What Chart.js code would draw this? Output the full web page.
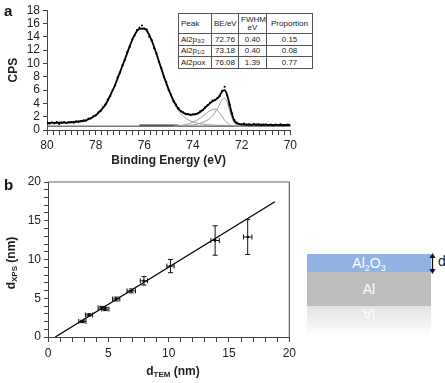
<!DOCTYPE html>
<html><head><meta charset="utf-8">
<script src="https://cdn.jsdelivr.net/npm/chart.js@4.4.1/dist/chart.umd.min.js"></script>
<style>
html,body{margin:0;padding:0;background:#fff;}
body{width:445px;height:383px;position:relative;overflow:hidden;font-family:"Liberation Sans",Arial,sans-serif;color:#222;}
canvas{position:absolute;left:0;}
#ca{top:0;}
#cb{top:170px;}
.panel{position:absolute;font-weight:bold;font-size:15px;color:#111;line-height:15px;}
#tbl{position:absolute;left:178px;top:13px;border-collapse:collapse;table-layout:fixed;width:134px;font-size:8px;background:#fff;color:#222;}
#tbl td{border:1px solid #555;padding:0 2px;text-align:center;white-space:nowrap;line-height:8px;overflow:hidden;}
#tbl td.l{text-align:left;}
#tbl sub{font-size:5.5px;vertical-align:-1px;line-height:0;}
.axt{position:absolute;font-weight:bold;font-size:12px;white-space:nowrap;transform:translate(-50%,-50%);color:#222;}
.axt sub{font-size:8px;vertical-align:-2px;line-height:0;}
.layer{position:absolute;left:307px;width:124px;color:#fff;font-size:14px;text-align:center;}
.layer sub{font-size:9px;vertical-align:-3px;line-height:0;}
</style></head>
<body>
<canvas id="ca" width="300" height="170"></canvas>
<canvas id="cb" width="300" height="213"></canvas>
<div class="panel" style="left:4px;top:3px">a</div>
<div class="panel" style="left:4px;top:177px">b</div>
<table id="tbl">
<colgroup><col style="width:33px"><col style="width:27px"><col style="width:28px"><col style="width:46px"></colgroup>
<tbody id="tbody"></tbody>
</table>
<div class="axt" id="ybt" style="left:11px;top:263px;transform:translate(-50%,-50%) rotate(-90deg)">d<sub>XPS</sub> (nm)</div>
<div class="axt" id="xbt" style="left:173px;top:371px">d<sub>TEM</sub> (nm)</div>
<div class="layer" style="top:254px;height:18px;line-height:18px;background:#8fb2e2">Al<sub>2</sub>O<sub>3</sub></div>
<div class="layer" style="top:272px;height:34px;line-height:34px;background:#bdbdbd">Al</div>
<div class="layer" style="top:306px;height:31px;background:linear-gradient(#e2e2e2,#ffffff);"><div style="transform:scaleY(-1);line-height:16px;opacity:0.95">Al</div></div>
<svg style="position:absolute;left:427px;top:252px" width="11" height="23" viewBox="0 0 11 23">
<line x1="5.5" y1="4" x2="5.5" y2="19" stroke="#111" stroke-width="1.3"/>
<polygon points="5.5,1 2.5,6 8.5,6" fill="#111"/>
<polygon points="5.5,22 2.5,17 8.5,17" fill="#111"/>
</svg>
<div style="position:absolute;left:438px;top:253px;font-size:14px;color:#222">d</div>
<script>
// ---------- Panel a: XPS spectrum ----------
const specE = [80.0,79.9,79.8,79.7,79.6,79.5,79.4,79.3,79.2,79.1,
79.0,78.9,78.8,78.7,78.6,78.5,78.4,78.3,78.2,78.1,
78.0,77.9,77.8,77.7,77.6,77.5,77.4,77.3,77.2,77.1,
77.0,76.9,76.8,76.7,76.6,76.5,76.4,76.3,76.2,76.1,
76.0,75.9,75.8,75.7,75.6,75.5,75.4,75.3,75.2,75.1,
75.0,74.9,74.8,74.7,74.6,74.5,74.4,74.3,74.2,74.1,
74.0,73.9,73.8,73.7,73.6,73.5,73.4,73.3,73.2,73.1,
73.0,72.9,72.8,72.7,72.6,72.5,72.4,72.3,72.2,72.1,
72.0,71.9,71.8,71.7,71.6,71.5,71.4,71.3,71.2,71.1,
71.0,70.9,70.8,70.7,70.6,70.5,70.4,70.3,70.2,70.1,
70.0];
const specCPS = [1.1,0.95,1.15,1.0,1.2,0.9,1.1,1.2,1.05,1.15,
1.2,1.1,1.3,1.25,1.35,1.45,1.4,1.7,1.75,2.05,
2.2,2.6,2.85,3.4,3.8,4.6,5.1,6.0,6.7,7.9,
8.6,9.7,10.5,11.7,12.5,13.6,14.2,15.0,15.4,15.7,
15.2,15.1,14.0,13.5,12.3,11.5,10.2,9.3,8.0,7.2,
6.0,5.3,4.3,3.8,3.3,2.8,2.65,2.4,2.4,2.25,
2.35,2.4,2.5,2.8,3.0,3.4,3.7,4.1,4.4,4.5,
4.8,5.1,5.9,6.5,5.2,3.8,2.5,1.5,1.1,0.9,
0.85,0.95,0.8,0.85,0.75,0.9,0.8,0.85,0.7,0.8,
0.85,0.75,0.8,0.7,0.8,0.75,0.85,0.7,0.75,0.8,
0.7];
const envE = [80.0,79.6,79.2,78.8,78.4,78.0,77.8,77.6,77.4,77.2,77.0,76.8,76.6,76.4,76.2,76.0,75.8,75.6,75.4,75.2,75.0,74.8,74.6,74.4,74.2,74.0,73.8,73.6,73.4,73.2,73.0,72.9,72.8,72.7,72.6,72.5,72.4,72.3,72.2,72.0,71.5,71.0,70.5,70.0];
const envFit = [1.05,1.08,1.12,1.24,1.46,2.2,2.9,3.8,5.2,6.8,8.7,10.6,12.6,14.3,15.2,15.25,14.3,12.5,10.3,8.1,6.1,4.4,3.2,2.6,2.35,2.3,2.5,3.0,3.7,4.3,4.75,5.2,5.8,6.0,5.3,3.9,2.4,1.4,1.0,0.85,0.8,0.78,0.76,0.75];
const oxE = [75.4,75.2,75.0,74.8,74.6,74.4,74.2,74.0,73.8,73.6,73.4,73.2,73.0,72.5,72.0,71.0,70.0];
const oxFit = [10.3,8.1,6.1,4.2,2.9,2.1,1.55,1.2,1.0,0.88,0.8,0.75,0.72,0.68,0.66,0.63,0.6];
const p12E = [74.8,74.6,74.4,74.2,74.0,73.8,73.6,73.4,73.2,73.1,73.0,72.9,72.8,72.7,72.6,72.5,72.4,72.2,72.0];
const p12Fit = [0.6,0.65,0.75,0.9,1.2,1.55,2.05,2.65,3.1,3.15,2.95,2.5,2.0,1.5,1.1,0.8,0.65,0.58,0.56];
const p32E = [74.4,74.2,74.0,73.8,73.6,73.4,73.2,73.0,72.9,72.8,72.7,72.6,72.5,72.4,72.3,72.2,72.0,71.8];
const p32Fit = [0.6,0.66,0.75,0.9,1.15,1.5,2.1,3.2,3.9,4.6,4.8,4.2,3.0,1.8,1.05,0.75,0.6,0.56];
const bgE = [80.0,70.0];
const bgFit = [0.55,0.55];
const shE = [76.2,74.6];
const shFit = [0.72,0.72];
const xTicksA = [80,78,76,74,72,70];

// table
const tblHead = ['Peak','BE/eV','FWHM/<br>eV','Proportion'];
const tblPeak = ['Al2p<sub>3/2</sub>','Al2p<sub>1/2</sub>','Al2pox'];
const tblBE = ['72.76','73.18','76.08'];
const tblFWHM = ['0.40','0.40','1.39'];
const tblProp = ['0.15','0.08','0.77'];

// ---------- Panel b: d_XPS vs d_TEM ----------
const dTEM = [2.85,3.4,4.45,4.75,5.65,6.9,7.95,10.15,13.85,16.55];
const dXPS = [2.0,2.85,3.75,3.6,4.9,5.95,7.25,9.15,12.45,12.9];
const dTEMerr = [0.3,0.3,0.3,0.3,0.3,0.35,0.3,0.3,0.35,0.35];
const dXPSerr = [0.15,0.15,0.2,0.2,0.25,0.25,0.55,0.85,1.9,2.25];
const fitX = [0.6,18.8];
const fitY = [0.0,17.45];

// build table
(function(){
  const tb = document.getElementById('tbody');
  let h = '<tr style="height:20px">' + tblHead.map((t,i)=>'<td'+(i===0?' class="l"':'')+'>'+t+'</td>').join('') + '</tr>';
  const rh = [12,11,12];
  for (let i=0;i<tblPeak.length;i++){
    h += '<tr style="height:'+rh[i]+'px"><td class="l">'+tblPeak[i]+'</td><td>'+tblBE[i]+'</td><td>'+tblFWHM[i]+'</td><td>'+tblProp[i]+'</td></tr>';
  }
  tb.innerHTML = h;
})();

const pts = (xs, ys) => xs.map((x,i)=>({x:x, y:ys[i]}));
Chart.defaults.font.family = "'Liberation Sans', Arial, sans-serif";
Chart.defaults.color = '#222';
const AX = '#444';

const lineDs = (label, xs, ys, color, w, order) => ({
  label, data: pts(xs, ys), showLine:true, pointRadius:0, borderColor:color, borderWidth:w,
  cubicInterpolationMode:'monotone', fill:false, order
});

new Chart(document.getElementById('ca'), {
  type:'scatter',
  data:{datasets:[
    {label:'data', data:pts(specE, specCPS), showLine:false, pointRadius:1.1, pointBackgroundColor:'#000', pointBorderWidth:0, order:0},
    lineDs('fit', envE, envFit, '#000', 1.8, 1),
    lineDs('Al2pox', oxE, oxFit, '#999', 1, 2),
    lineDs('Al2p1/2', p12E, p12Fit, '#999', 1, 2),
    lineDs('Al2p3/2', p32E, p32Fit, '#999', 1, 2),
    lineDs('Shirley', shE, shFit, '#333', 1.2, 3),
    lineDs('baseline', bgE, bgFit, '#777', 1.5, 4)
  ]},
  options:{
    responsive:false, animation:false, events:[],
    layout:{padding:{top:10,right:9,left:0,bottom:0}},
    plugins:{legend:{display:false}, tooltip:{enabled:false}},
    scales:{
      x:{type:'linear', reverse:true, min:70, max:80,
        ticks:{stepSize:0.25, autoSkip:false, maxRotation:0, padding:3, font:{size:12}, color:'#222',
          callback:(v)=> xTicksA.includes(v) ? String(v) : ''},
        grid:{display:true, drawOnChartArea:false, drawTicks:true, tickLength:5, color:AX},
        border:{display:true, color:AX, width:1},
        title:{display:true, text:'Binding Energy (eV)', font:{size:12, weight:'bold'}, padding:{top:0,bottom:2}, color:'#222'},
        afterFit:(s)=>{s.height=40;}
      },
      y:{min:0, max:18,
        ticks:{stepSize:2, autoSkip:false, padding:3, font:{size:12}, color:'#222'},
        grid:{display:true, drawOnChartArea:false, drawTicks:true, tickLength:4, color:AX},
        border:{display:true, color:AX, width:1},
        title:{display:true, text:'CPS', font:{size:12, weight:'bold'}, padding:{top:6,bottom:0}, color:'#222'},
        afterFit:(s)=>{s.width=47;}
      }
    }
  }
});

const errBars = {
  id:'errBars',
  afterDatasetsDraw(chart){
    const {ctx, scales:{x, y}} = chart;
    ctx.save();
    ctx.strokeStyle = '#111'; ctx.lineWidth = 1;
    const cap = 2.5;
    dTEM.forEach((t,i)=>{
      const px = x.getPixelForValue(t), py = y.getPixelForValue(dXPS[i]);
      const xl = x.getPixelForValue(t - dTEMerr[i]), xr = x.getPixelForValue(t + dTEMerr[i]);
      const yb = y.getPixelForValue(dXPS[i] - dXPSerr[i]), yt = y.getPixelForValue(dXPS[i] + dXPSerr[i]);
      ctx.beginPath();
      ctx.moveTo(xl, py); ctx.lineTo(xr, py);
      ctx.moveTo(xl, py-cap); ctx.lineTo(xl, py+cap);
      ctx.moveTo(xr, py-cap); ctx.lineTo(xr, py+cap);
      ctx.moveTo(px, yb); ctx.lineTo(px, yt);
      ctx.moveTo(px-cap, yb); ctx.lineTo(px+cap, yb);
      ctx.moveTo(px-cap, yt); ctx.lineTo(px+cap, yt);
      ctx.stroke();
    });
    ctx.restore();
  }
};
const frame = {
  id:'frame',
  afterDraw(chart){
    const {ctx, chartArea:a} = chart;
    ctx.save(); ctx.strokeStyle = '#666'; ctx.lineWidth = 1.2;
    ctx.beginPath();
    ctx.moveTo(a.left, a.top); ctx.lineTo(a.right, a.top); ctx.lineTo(a.right, a.bottom);
    ctx.stroke(); ctx.restore();
  }
};

new Chart(document.getElementById('cb'), {
  type:'scatter',
  data:{datasets:[
    {label:'dXPS vs dTEM', data:pts(dTEM, dXPS), showLine:false, pointRadius:1.4, pointBackgroundColor:'#000', pointBorderWidth:0, order:0},
    {label:'fit', data:pts(fitX, fitY), showLine:true, pointRadius:0, borderColor:'#000', borderWidth:1.3, order:1}
  ]},
  options:{
    responsive:false, animation:false, events:[],
    layout:{padding:{top:12,right:10,left:0,bottom:0}},
    plugins:{legend:{display:false}, tooltip:{enabled:false}},
    scales:{
      x:{type:'linear', min:0, max:20,
        ticks:{stepSize:1, autoSkip:false, maxRotation:0, padding:4, font:{size:12}, color:'#222',
          callback:(v)=> v%5===0 ? String(v) : ''},
        grid:{display:true, drawOnChartArea:false, drawTicks:true, tickLength:5, color:AX},
        border:{display:true, color:AX, width:1},
        afterFit:(s)=>{s.height=46;}
      },
      y:{min:0, max:20,
        ticks:{stepSize:1, autoSkip:false, padding:3, font:{size:12}, color:'#222',
          callback:(v)=> v%5===0 ? String(v) : ''},
        grid:{display:true, drawOnChartArea:false, drawTicks:true, tickLength:4, color:AX},
        border:{display:true, color:AX, width:1},
        afterFit:(s)=>{s.width=48;}
      }
    }
  },
  plugins:[errBars, frame]
});
</script>
</body></html>
